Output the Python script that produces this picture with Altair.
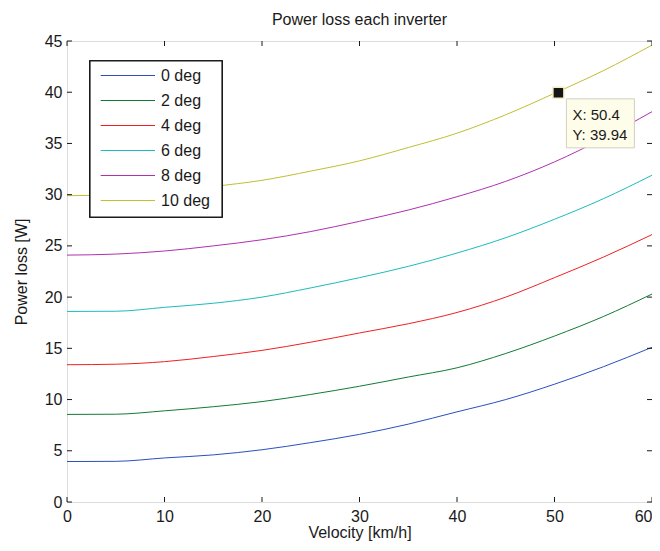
import altair as alt
import pandas as pd

# ---- data ----
velocity = [0, 5, 10, 15, 20, 25, 30, 35, 40, 45, 50, 55, 60]
series = ["0 deg", "2 deg", "4 deg", "6 deg", "8 deg", "10 deg"]
loss_0 = [3.95, 3.97, 4.3, 4.6, 5.1, 5.8, 6.6, 7.6, 8.8, 10.0, 11.5, 13.2, 15.1]
loss_2 = [8.55, 8.57, 8.9, 9.3, 9.8, 10.5, 11.3, 12.2, 13.1, 14.5, 16.2, 18.1, 20.3]
loss_4 = [13.4, 13.45, 13.7, 14.2, 14.8, 15.6, 16.5, 17.4, 18.5, 20.0, 21.9, 23.9, 26.1]
loss_6 = [18.6, 18.62, 19.0, 19.4, 20.0, 20.9, 21.9, 23.0, 24.3, 25.8, 27.6, 29.6, 31.9]
loss_8 = [24.1, 24.2, 24.5, 25.0, 25.6, 26.4, 27.4, 28.5, 29.8, 31.3, 33.2, 35.5, 38.1]
loss_10 = [29.9, 30.0, 30.3, 30.8, 31.4, 32.3, 33.3, 34.6, 36.0, 37.8, 39.9, 42.1, 44.6]
colors = ["#2a4fc0", "#137a35", "#f02020", "#1cbcbc", "#b030b0", "#c0c030"]
x_ticks = [0, 10, 20, 30, 40, 50, 60]
y_ticks = [0, 5, 10, 15, 20, 25, 30, 35, 40, 45]
tip_x = 50.4
tip_y = 39.94

FONT = "Liberation Sans"
INK = "#1a1a1a"
W, H = 585, 461

rows = []
for name, vals in zip(series, [loss_0, loss_2, loss_4, loss_6, loss_8, loss_10]):
    for v, p in zip(velocity, vals):
        rows.append({"velocity": v, "loss": p, "series": name})
df = pd.DataFrame(rows)

xs = alt.Scale(domain=[0, 60], nice=False, zero=False)
ys = alt.Scale(domain=[0, 45], nice=False, zero=False)
cs = alt.Scale(domain=series, range=colors)

xaxis = alt.Axis(values=x_ticks, title="Velocity [km/h]", grid=False, ticks=False, domain=False,
                 labelFontSize=16, labelFont=FONT, labelColor=INK, labelPadding=6,
                 labelFlush=False, labelOverlap=False,
                 labelAlign={"condition": {"test": "datum.value >= 60", "value": "right"},
                             "value": "center"},
                 titleFontSize=16, titleFont=FONT, titleColor=INK, titleFontWeight="normal",
                 titlePadding=0)
yaxis = alt.Axis(values=y_ticks, title="Power loss [W]", grid=False, ticks=False, domain=False,
                 labelFontSize=16, labelFont=FONT, labelColor=INK, labelPadding=5,
                 labelFlush=False, labelOverlap=False,
                 titleFontSize=16, titleFont=FONT, titleColor=INK, titleFontWeight="normal",
                 titlePadding=15)

X = alt.X("velocity:Q", scale=xs, axis=xaxis)

lines = alt.Chart(df).mark_line(strokeWidth=1, interpolate="monotone").encode(
    x=X,
    y=alt.Y("loss:Q", scale=ys, axis=yaxis),
    color=alt.Color("series:N", sort=series, scale=cs, legend=None),
)

xt = pd.DataFrame({"velocity": x_ticks})
yt = pd.DataFrame({"loss": y_ticks})

tick_b = alt.Chart(xt).mark_rule(color=INK, strokeWidth=1).encode(
    x=X, y=alt.value(H), y2=alt.value(H - 5))
tick_t = alt.Chart(xt).mark_rule(color=INK, strokeWidth=1).encode(
    x=X, y=alt.value(0), y2=alt.value(5))
tick_l = alt.Chart(yt).mark_rule(color=INK, strokeWidth=1).encode(
    y=alt.Y("loss:Q", scale=ys, axis=None), x=alt.value(0), x2=alt.value(5))
tick_r = alt.Chart(yt).mark_rule(color=INK, strokeWidth=1).encode(
    y=alt.Y("loss:Q", scale=ys, axis=None), x=alt.value(W - 5), x2=alt.value(W))

# ---- legend (drawn as layers) ----
leg = pd.DataFrame({"series": series, "row": list(range(len(series)))})
LY = alt.Y("row:O", scale=alt.Scale(type="point", domain=list(range(len(series))),
                                     range=[34.5, 159.5], padding=0), axis=None)
leg_box = alt.Chart(leg).mark_rect(fill="white", stroke=INK, strokeWidth=1.2).encode(
    x=alt.value(23), x2=alt.value(155), y=alt.value(20), y2=alt.value(176))
leg_sym = alt.Chart(leg).mark_rule(strokeWidth=1).encode(
    x=alt.value(33.7), x2=alt.value(88), y=LY,
    color=alt.Color("series:N", sort=series, scale=cs, legend=None))
leg_lab = alt.Chart(leg).mark_text(align="left", baseline="middle", fontSize=16, font=FONT,
                                   color=INK).encode(
    x=alt.value(94), y=LY, text="series:N")

# ---- data tip ----
tip = pd.DataFrame({"velocity": [tip_x], "loss": [tip_y],
                    "lx": [f"X: {tip_x}"], "ly": [f"Y: {tip_y}"]})
TY = alt.Y("loss:Q", scale=ys, axis=None)
tip_box = alt.Chart(tip).mark_rect(fill="#fefde9", stroke="#cfcfc4", strokeWidth=1,
                                   xOffset=8, x2Offset=76, yOffset=6, y2Offset=55).encode(
    x=X, x2="velocity", y=TY, y2="loss")
tip_mark = alt.Chart(tip).mark_square(size=121, filled=True, fill="#151515", stroke="#f4efc2",
                                      strokeWidth=1.5, opacity=1).encode(x=X, y=TY)
tip_t1 = alt.Chart(tip).mark_text(align="left", baseline="top", dx=14, dy=15, fontSize=15,
                                  font=FONT, color=INK).encode(x=X, y=TY, text="lx:N")
tip_t2 = alt.Chart(tip).mark_text(align="left", baseline="top", dx=14, dy=35, fontSize=15,
                                  font=FONT, color=INK).encode(x=X, y=TY, text="ly:N")

chart = alt.layer(lines, tick_b, tick_t, tick_l, tick_r, leg_box, leg_sym, leg_lab,
                  tip_box, tip_mark, tip_t1, tip_t2).resolve_scale(y="independent").properties(
    width=W, height=H,
    autosize=alt.AutoSizeParams(type="none"),
    padding={"left": 59, "top": 33, "right": 0, "bottom": 41},
    title=alt.Title("Power loss each inverter", fontSize=16, fontWeight="normal", font=FONT,
                    color=INK, offset=5, anchor="middle"),
).configure_view(stroke=INK, strokeWidth=1).configure(background="white")

chart.save("out.html", embed_options={"renderer": "svg", "actions": False})
